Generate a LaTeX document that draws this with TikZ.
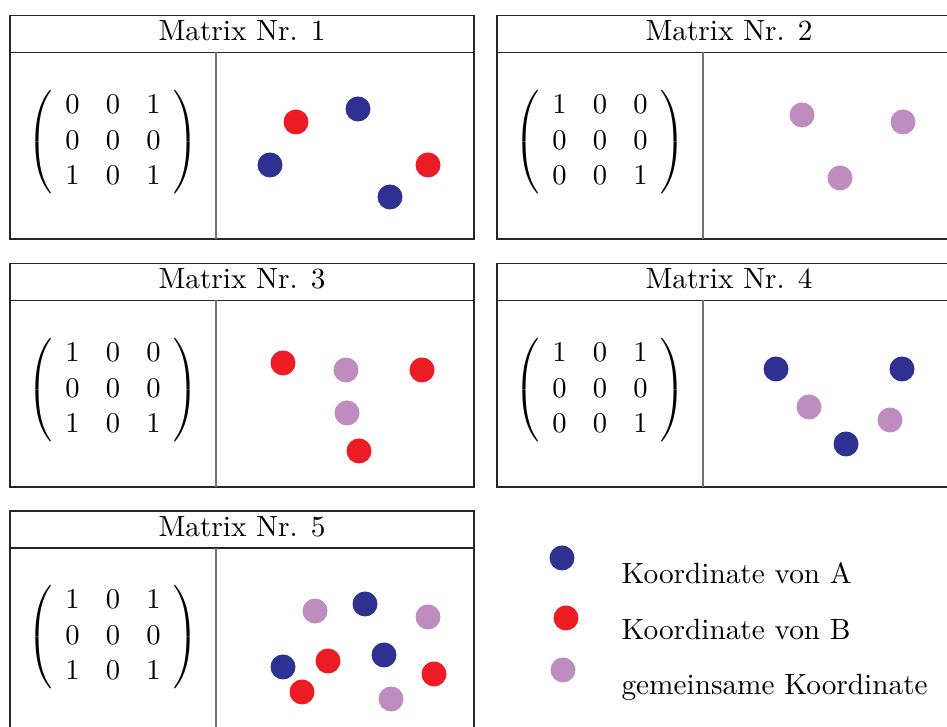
\documentclass[tikz,border=0pt]{standalone}
\usepackage{xcolor}
\definecolor{ablue}{RGB}{46,49,146}
\definecolor{bred}{RGB}{237,28,36}
\definecolor{cpurple}{RGB}{190,140,190}
\setlength{\arraycolsep}{4.6pt}
\begin{document}
\begin{tikzpicture}[x=0.35pt,y=-0.35pt,
  every node/.style={font=\fontsize{10.25pt}{12.3pt}\selectfont},
  frame/.style={draw=black!85,line width=0.4pt},
  divider/.style={draw=black!55,line width=0.5pt},
  title/.style={anchor=base,inner sep=0pt},
  mat/.style={inner sep=0pt},
  dot/.style={circle,inner sep=0pt,minimum size=8.75pt},
  adot/.style={dot,fill=ablue},
  bdot/.style={dot,fill=bred},
  cdot/.style={dot,fill=cpurple},
  legtext/.style={anchor=base west,inner sep=0pt}]
\useasboundingbox (0,0) rectangle (947,727);
\clip (0,0) rectangle (947,727);
% Panel 1
\draw[frame] (10,15.5) rectangle (474,239);
\draw[frame] (10,52.3) -- (474,52.3);
\draw[divider] (216,52.3) -- (216,239);
\node[title] (t1) at (242,40.5) {Matrix Nr. 1};
\node[mat] (m1) at (113,142) {$\left(\begin{array}{ccc}0&0&1\\0&0&0\\1&0&1\end{array}\right)$};
\node[bdot] (p1a) at (296,122) {};
\node[adot] (p1b) at (358,109) {};
\node[adot] (p1c) at (270,165) {};
\node[bdot] (p1d) at (428,165) {};
\node[adot] (p1e) at (390,197) {};
% Panel 2
\draw[frame] (497,15.5) rectangle (961,239);
\draw[frame] (497,52.3) -- (961,52.3);
\draw[divider] (703,52.3) -- (703,239);
\node[title] (t2) at (729,40.5) {Matrix Nr. 2};
\node[mat] (m2) at (600,142) {$\left(\begin{array}{ccc}1&0&0\\0&0&0\\0&0&1\end{array}\right)$};
\node[cdot] (p2a) at (802,115) {};
\node[cdot] (p2b) at (903,122) {};
\node[cdot] (p2c) at (840,178) {};
% Panel 3
\draw[frame] (10,263.3) rectangle (474,487);
\draw[frame] (10,300.3) -- (474,300.3);
\draw[divider] (216,300.3) -- (216,487);
\node[title] (t3) at (242,289) {Matrix Nr. 3};
\node[mat] (m3) at (113,390) {$\left(\begin{array}{ccc}1&0&0\\0&0&0\\1&0&1\end{array}\right)$};
\node[bdot] (p3a) at (283,363) {};
\node[cdot] (p3b) at (346,370) {};
\node[bdot] (p3c) at (422,370) {};
\node[cdot] (p3d) at (347,413) {};
\node[bdot] (p3e) at (359,451) {};
% Panel 4
\draw[frame] (497,263.3) rectangle (961,487);
\draw[frame] (497,300.3) -- (961,300.3);
\draw[divider] (703,300.3) -- (703,487);
\node[title] (t4) at (729,289) {Matrix Nr. 4};
\node[mat] (m4) at (600,390) {$\left(\begin{array}{ccc}1&0&1\\0&0&0\\0&0&1\end{array}\right)$};
\node[adot] (p4a) at (776,369) {};
\node[adot] (p4b) at (902,369) {};
\node[cdot] (p4c) at (809,407) {};
\node[cdot] (p4d) at (890,420) {};
\node[adot] (p4e) at (846,444) {};
% Panel 5
\draw[frame] (10,511) rectangle (474,734);
\draw[frame] (10,548) -- (474,548);
\draw[divider] (216,548) -- (216,734);
\node[title] (t5) at (242,536.7) {Matrix Nr. 5};
\node[mat] (m5) at (113,637) {$\left(\begin{array}{ccc}1&0&1\\0&0&0\\1&0&1\end{array}\right)$};
\node[cdot] (p5a) at (315,611) {};
\node[adot] (p5b) at (365,604) {};
\node[cdot] (p5c) at (428,617) {};
\node[adot] (p5d) at (283,667) {};
\node[bdot] (p5e) at (328,661) {};
\node[adot] (p5f) at (384,655) {};
\node[bdot] (p5g) at (434,674) {};
\node[bdot] (p5h) at (302,692) {};
\node[cdot] (p5i) at (391,699) {};
% Legend
\node[adot] (la) at (562,558) {};
\node[bdot] (lb) at (566,618) {};
\node[cdot] (lc) at (563,670) {};
\node[legtext] (lta) at (621,584) {Koordinate von A};
\node[legtext] (ltb) at (621,640) {Koordinate von B};
\node[legtext] (ltc) at (621,695) {gemeinsame Koordinate};
\end{tikzpicture}
\end{document}
